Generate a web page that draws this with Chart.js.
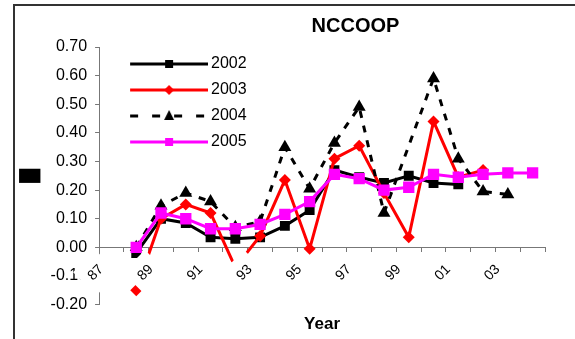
<!DOCTYPE html>
<html>
<head>
<meta charset="utf-8">
<script src="https://cdn.jsdelivr.net/npm/chart.js@4/dist/chart.umd.min.js"></script>
<style>
  html, body { margin: 0; padding: 0; background: #fff; }
  #marco { position: absolute; left: 13px; top: 4px; width: 600px; height: 400px;
           border-left: 2px solid #333; border-top: 2px solid #333; }
  #wrap { position: absolute; left: 0; top: 0; width: 575px; height: 339px; }
</style>
</head>
<body>
<div id="marco"></div>
<div id="wrap"><canvas id="grafico" width="575" height="339"></canvas></div>
<script>
// Datos del gráfico
const titulo = 'NCCOOP';
const tituloX = 'Year';
const tituloY = '█';
const anios = ['1987', '1988', '1989', '1990', '1991', '1992', '1993', '1994', '1995',
               '1996', '1997', '1998', '1999', '2000', '2001', '2002', '2003', '2004'];
const etiquetasX = ['87', '', '89', '', '91', '', '93', '', '95',
                    '', '97', '', '99', '', '01', '', '03', ''];
const serie2002 = [null, -0.02, 0.10, 0.085, 0.035, 0.03, 0.035, 0.075, 0.13, 0.27, 0.245, 0.225, 0.25, 0.225, 0.22, null, null, null];
const serie2003 = [null, -0.15, 0.10, 0.15, 0.12, -0.07, 0.04, 0.235, -0.005, 0.31, 0.355, 0.19, 0.035, 0.44, 0.245, 0.27, null, null];
const serie2004 = [null, 0.00, 0.145, 0.19, 0.16, 0.07, 0.09, 0.35, 0.205, 0.365, 0.49, 0.12, null, 0.59, 0.31, 0.195, 0.185, null];
const serie2005 = [null, 0.00, 0.12, 0.10, 0.065, 0.065, 0.08, 0.115, 0.16, 0.255, 0.24, 0.20, 0.21, 0.255, 0.245, 0.255, 0.26, 0.26];
const ticksY = [-0.20, -0.10, 0.00, 0.10, 0.20, 0.30, 0.40, 0.50, 0.60, 0.70];

const fuente = "'Liberation Sans', Arial, sans-serif";

// icono de leyenda: línea con marcador en el centro
function iconoLeyenda(color, marcador, punteada) {
  const c = document.createElement('canvas');
  c.width = 104;
  c.height = 16;
  const g = c.getContext('2d');
  g.strokeStyle = color;
  g.fillStyle = color;
  g.lineWidth = 3;
  if (punteada) g.setLineDash([8, 14]);
  g.beginPath();
  g.moveTo(26, 8);
  g.lineTo(104, 8);
  g.stroke();
  g.setLineDash([]);
  g.beginPath();
  if (marcador === 'rect') {
    g.rect(61, 4, 8, 8);
  } else if (marcador === 'rectRot') {
    g.moveTo(65, 3); g.lineTo(70, 8); g.lineTo(65, 13); g.lineTo(60, 8); g.closePath();
  } else {
    g.moveTo(65, 2); g.lineTo(70, 12); g.lineTo(60, 12); g.closePath();
  }
  g.fill();
  return c;
}

const iconos = [
  iconoLeyenda('#000000', 'rect', false),
  iconoLeyenda('#ff0000', 'rectRot', false),
  iconoLeyenda('#000000', 'triangle', true),
  iconoLeyenda('#ff00ff', 'rect', false)
];

// título desplazado como en el original
const pluginTitulo = {
  id: 'pluginTitulo',
  afterDraw(chart) {
    const { ctx, chartArea } = chart;
    ctx.save();
    ctx.font = 'bold 20px ' + fuente;
    ctx.fillStyle = '#000';
    ctx.textAlign = 'center';
    ctx.textBaseline = 'middle';
    ctx.fillText(titulo, chartArea.left + (chartArea.right - chartArea.left) * 0.575, 26);
    ctx.restore();
  }
};

const ctx = document.getElementById('grafico').getContext('2d');
new Chart(ctx, {
  type: 'line',
  data: {
    labels: anios,
    datasets: [
      {
        label: '2002', data: serie2002, order: 3,
        borderColor: '#000000', backgroundColor: '#000000', borderWidth: 3,
        pointStyle: 'rect', pointRadius: 7, pointBorderWidth: 0
      },
      {
        label: '2003', data: serie2003, order: 2,
        borderColor: '#ff0000', backgroundColor: '#ff0000', borderWidth: 3,
        pointStyle: 'rectRot', pointRadius: 6, pointBorderWidth: 0
      },
      {
        label: '2004', data: serie2004, order: 1, spanGaps: true,
        borderColor: '#000000', backgroundColor: '#000000', borderWidth: 3, borderDash: [7, 8],
        pointStyle: 'triangle', pointRadius: 7.5, pointBorderWidth: 0
      },
      {
        label: '2005', data: serie2005, order: 0,
        borderColor: '#ff00ff', backgroundColor: '#ff00ff', borderWidth: 3,
        pointStyle: 'rect', pointRadius: 8, pointBorderWidth: 0
      }
    ]
  },
  options: {
    responsive: false,
    animation: false,
    layout: { padding: { left: 12, top: 47, right: 30, bottom: 0 } },
    elements: { line: { tension: 0 } },
    plugins: {
      legend: {
        position: 'chartArea',
        align: 'start',
        // título vacío solo para bajar la leyenda dentro del área
        title: { display: true, text: '', font: { size: 10 }, padding: { top: 34, bottom: 0 } },
        labels: {
          usePointStyle: true,
          pointStyleWidth: 94,
          padding: 10,
          color: '#000',
          font: { family: fuente, size: 16 },
          generateLabels(chart) {
            const items = Chart.defaults.plugins.legend.labels.generateLabels(chart);
            items.sort((a, b) => a.datasetIndex - b.datasetIndex);
            items.forEach(it => { it.pointStyle = iconos[it.datasetIndex]; });
            return items;
          }
        }
      },
      title: { display: false },
      subtitle: {
        display: true,
        position: 'bottom',
        fullSize: false,
        text: tituloX,
        color: '#000',
        font: { family: fuente, size: 17, weight: 'bold' },
        padding: { top: 10, bottom: 4 }
      },
      tooltip: { enabled: false }
    },
    scales: {
      x: {
        position: { y: 0 },
        offset: true,
        grid: { display: true, offset: true, drawOnChartArea: false, drawTicks: true, tickLength: 4, color: '#777' },
        border: { display: true, color: '#777', width: 1 },
        ticks: {
          autoSkip: false,
          minRotation: 45,
          maxRotation: 45,
          padding: 10,
          labelOffset: -16,
          z: 1,
          color: '#000',
          font: { family: fuente, size: 14 },
          showLabelBackdrop: true,
          backdropColor: '#ffffff',
          backdropPadding: 8,
          callback: (v, i) => etiquetasX[i]
        }
      },
      y: {
        min: -0.2,
        max: 0.7,
        afterBuildTicks: (scale) => { scale.ticks = ticksY.map(v => ({ value: v })); },
        grid: { display: true, drawOnChartArea: false, drawTicks: true, tickLength: 4, color: '#777' },
        border: { display: true, color: '#777', width: 1 },
        title: {
          display: true,
          text: tituloY,
          color: '#000',
          font: { family: 'DejaVu Sans', size: 18 },
          padding: { top: 9, bottom: 0 }
        },
        ticks: {
          padding: 8,
          color: '#000',
          font: { family: fuente, size: 16 },
          callback: (v) => v.toFixed(2)
        }
      }
    }
  },
  plugins: [pluginTitulo]
});
</script>
</body>
</html>
